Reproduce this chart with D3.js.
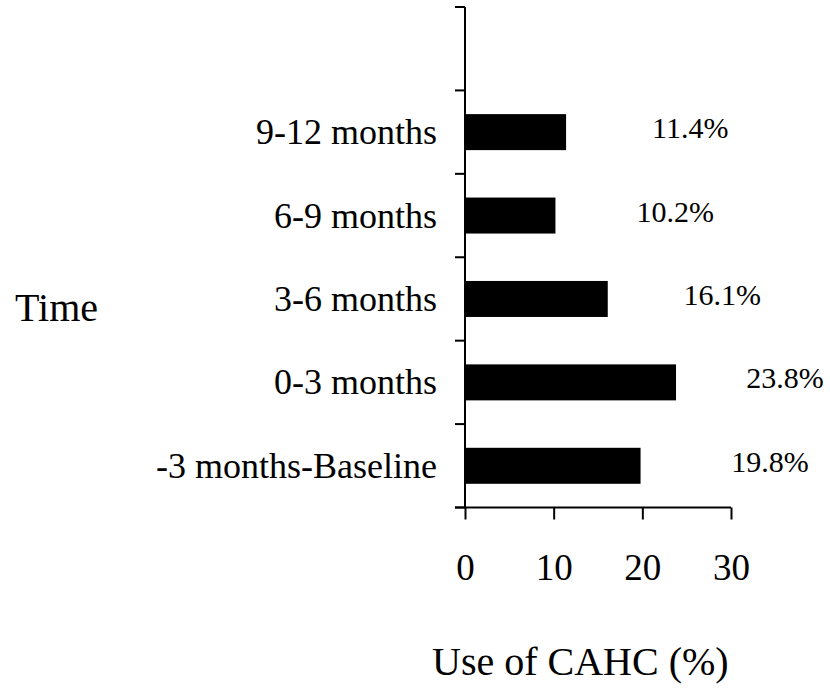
<!DOCTYPE html>
<html>
<head>
<meta charset="utf-8">
<script src="https://cdn.jsdelivr.net/npm/d3@7"></script>
<style>
  body { margin: 0; background: #fff; }
  text { font-family: "Liberation Serif", "Times New Roman", serif; fill: #000; }
  .axis line, .axis path { stroke: #000; stroke-width: 2; }
</style>
</head>
<body>
<svg id="chart" width="830" height="692"></svg>
<script>
// categories from top to bottom (top slot is empty in the original)
var categories = ["", "9-12 months", "6-9 months", "3-6 months", "0-3 months", "-3 months-Baseline"];
var values = [null, 11.4, 10.2, 16.1, 23.8, 19.8];
var valueLabels = ["", "11.4%", "10.2%", "16.1%", "23.8%", "19.8%"];
// where the value labels sit, in % units of the x axis (placed by hand in the source)
var labelAt = [null, 25.4, 23.7, 29.0, 36.1, 34.4];
var xTicks = [0, 10, 20, 30];

var svg = d3.select("#chart");

var x = d3.scaleLinear().domain([0, 30]).range([465, 731]);
var y = d3.scaleBand().domain(categories).range([7, 507.5]).paddingInner(0).paddingOuter(0);
var barH = 36;

var shown = categories.filter(function(d, i) { return values[i] != null; });

// bars
svg.selectAll(".bar")
    .data(shown)
    .enter()
    .append("rect")
    .attr("class", "bar")
    .attr("x", x(0))
    .attr("y", function(d) { return y(d) + (y.bandwidth() - barH) / 2; })
    .attr("width", function(d) { return x(values[categories.indexOf(d)]) - x(0); })
    .attr("height", barH)
    .attr("fill", "#000");

// value labels
svg.selectAll(".vlabel")
    .data(shown)
    .enter()
    .append("text")
    .attr("class", "vlabel")
    .attr("x", function(d) { return x(labelAt[categories.indexOf(d)]); })
    .attr("y", function(d) { return y(d) + y.bandwidth() / 2 + 6; })
    .attr("text-anchor", "middle")
    .style("font-size", "30px")
    .text(function(d) { return valueLabels[categories.indexOf(d)]; });

// y axis: line plus ticks at band edges (category-axis style)
var yAxis = svg.append("g").attr("class", "axis");
yAxis.append("line")
    .attr("x1", x(0)).attr("x2", x(0))
    .attr("y1", y.range()[0]).attr("y2", y.range()[1]);
var edges = categories.map(function(d) { return y(d); }).concat([y.range()[1]]);
yAxis.selectAll(".ytick")
    .data(edges)
    .enter()
    .append("line")
    .attr("class", "ytick")
    .attr("x1", x(0) - 10).attr("x2", x(0))
    .attr("y1", function(d) { return d; })
    .attr("y2", function(d) { return d; });

svg.selectAll(".ylabel")
    .data(categories.filter(function(d) { return d !== ""; }))
    .enter()
    .append("text")
    .attr("class", "ylabel")
    .attr("x", 437)
    .attr("y", function(d) { return y(d) + y.bandwidth() / 2 + 12; })
    .attr("text-anchor", "end")
    .style("font-size", "36px")
    .text(function(d) { return d; });

// x axis
var xAxis = d3.axisBottom(x)
    .tickValues(xTicks)
    .tickSize(12)
    .tickPadding(34)
    .tickSizeOuter(0);

var gx = svg.append("g")
    .attr("class", "axis")
    .attr("transform", "translate(0," + y.range()[1] + ")")
    .call(xAxis);
gx.select(".domain").remove();
gx.append("line")
    .attr("x1", x(0) - 10).attr("x2", x(30))
    .attr("y1", 0).attr("y2", 0);
gx.selectAll(".tick text")
    .attr("fill", "#000")
    .style("font-family", "'Liberation Serif', 'Times New Roman', serif")
    .style("font-size", "37px");

// axis titles
svg.append("text")
    .attr("x", 15)
    .attr("y", 321)
    .style("font-size", "40px")
    .text("Time");

svg.append("text")
    .attr("x", 432)
    .attr("y", 675)
    .style("font-size", "40px")
    .text("Use of CAHC (%)");
</script>
</body>
</html>
